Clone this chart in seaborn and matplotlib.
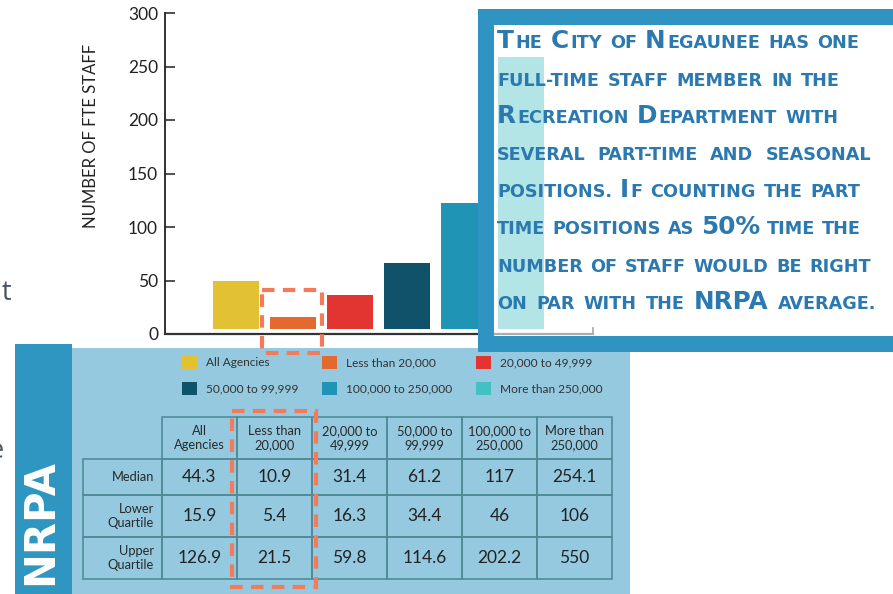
import re
import numpy as np
import pandas as pd
import matplotlib
matplotlib.use("Agg")
import matplotlib.pyplot as plt
import seaborn as sns
from matplotlib.patches import Rectangle
from matplotlib.table import Table

# ---------------- data ----------------
categories = ["All Agencies", "Less than 20,000", "20,000 to 49,999",
              "50,000 to 99,999", "100,000 to 250,000", "More than 250,000"]
median_fte = [44.3, 10.9, 31.4, 61.2, 117, 254.1]
lower_quartile = [15.9, 5.4, 16.3, 34.4, 46, 106]
upper_quartile = [126.9, 21.5, 59.8, 114.6, 202.2, 550]
col_headers = ["All\nAgencies", "Less than\n20,000", "20,000 to\n49,999",
               "50,000 to\n99,999", "100,000 to\n250,000", "More than\n250,000"]
row_labels = ["Median", "Lower\nQuartile", "Upper\nQuartile"]
y_ticks = [0, 50, 100, 150, 200, 250, 300]
y_label = "NUMBER OF FTE STAFF"
box_lines = [
    "{T}HE {C}ITY OF {N}EGAUNEE HAS ONE",
    "FULL-TIME STAFF MEMBER IN THE",
    "{R}ECREATION {D}EPARTMENT WITH",
    "SEVERAL PART-TIME AND SEASONAL",
    "POSITIONS. {I}F COUNTING THE PART",
    "TIME POSITIONS AS {50%} TIME THE",
    "NUMBER OF STAFF WOULD BE RIGHT",
    "ON PAR WITH THE {NRPA} AVERAGE.",
]

# ---------------- styles ----------------
bar_colors = ["#e2c232", "#e4692f", "#e23532", "#11526b", "#2094b4", "#42c0c4"]
band_c = "#2f95c1"
panel_c = "#95c9df"
box_border_c = "#2f94c2"
box_text_c = "#2b79ae"
grid_c = "#4f8c97"
dash_c = "#f47a5a"
ink = "#222222"

plt.rcParams["font.family"] = ["Lato", "DejaVu Sans"]

W, H = 893, 594
fig = plt.figure(figsize=(W / 100, H / 100), dpi=100)


def fx(px):
    return px / W


def fy(py):
    return 1 - py / H


# ---------------- background layer ----------------
bg = fig.add_axes([0, 0, 1, 1])
bg.set_xlim(0, W)
bg.set_ylim(H, 0)
bg.axis("off")
bg.set_zorder(0)
bg.add_patch(Rectangle((15, 344), 57, 260, color=band_c, lw=0))
bg.add_patch(Rectangle((72, 348), 558, 256, color=panel_c, lw=0))
bg.text(40, 522, "NRPA", rotation=90, ha="center", va="center", color="white",
        fontsize=30, fontweight="bold", family="DejaVu Sans")
bg.text(2, 300, "t", ha="left", va="baseline", fontsize=19.5, color="#4a5561",
        family="Open Sans")
bg.text(4, 458, "e", ha="right", va="baseline", fontsize=19.5, color="#4a5561",
        family="Open Sans")

# ---------------- bar chart ----------------
ax = fig.add_axes([fx(165), fy(334), fx(593) - fx(165), fy(13) - fy(334)])
ax.set_zorder(1)
ax.patch.set_alpha(0)
df = pd.DataFrame({"category": categories, "median": median_fte})
sns.barplot(data=df, x="category", y="median", hue="category",
            palette=bar_colors, saturation=1, width=0.807, bottom=5,
            legend=False, ax=ax)
ax.set_xlim(-1.25, 6.26)
ax.set_ylim(0, 300)
ax.set_yticks(y_ticks)
ax.set_xticks([])
ax.set_xlabel("")
ax.set_ylabel(y_label, fontsize=12, color=ink)
ax.yaxis.set_label_coords(-0.173, 0.617)
ax.yaxis.label.set_verticalalignment("center")
ax.tick_params(axis="y", direction="in", length=7.2, width=1.1, colors=ink,
               labelsize=12.5, pad=5)
ax.spines["top"].set_visible(False)
ax.spines["left"].set_linewidth(1.3)
ax.spines["left"].set_color(ink)
ax.spines["bottom"].set_linewidth(1.6)
ax.spines["bottom"].set_color("#333333")
ax.spines["right"].set_bounds(0, 6)
ax.spines["right"].set_color("#333333")
ax.spines["right"].set_linewidth(1.3)

# ---------------- top layer ----------------
top = fig.add_axes([0, 0, 1, 1])
top.set_xlim(0, W)
top.set_ylim(H, 0)
top.axis("off")
top.set_zorder(2)

# text box (semi-transparent white inside an opaque blue frame)
top.add_patch(Rectangle((486, 17), W + 30 - 486, 344 - 17,
                        facecolor=(1, 1, 1, 0.6), edgecolor=box_border_c,
                        lw=16 * 0.72, joinstyle="miter", clip_on=False, zorder=2))

# dashed highlight boxes
for (x0, y0, w0, h0) in [(262, 290, 60, 63), (232, 411, 84, 176)]:
    top.add_patch(Rectangle((x0, y0), w0, h0, fill=False, edgecolor=dash_c,
                            lw=3.0, linestyle=(0, (3.0, 2.0)), zorder=6,
                            clip_on=False))

# table
tbl = Table(top, bbox=[fx(83), fy(579), fx(612) - fx(83), fy(417) - fy(579)])
tbl.auto_set_font_size(False)
row_h = [36, 42, 42]
for j, hdr in enumerate(col_headers):
    c = tbl.add_cell(0, j + 1, width=75, height=42, text=hdr, loc="center",
                     facecolor="none", edgecolor=grid_c)
    c.get_text().set(fontsize=9.3, color="#2a2a2a", linespacing=1.25)
    c.set_linewidth(1.2)
table_rows = [median_fte, lower_quartile, upper_quartile]
for i, (lab, vals) in enumerate(zip(row_labels, table_rows)):
    c = tbl.add_cell(i + 1, 0, width=79, height=row_h[i], text=lab, loc="right",
                     facecolor="none", edgecolor=grid_c)
    c.get_text().set(fontsize=9.3, color="#2a2a2a", linespacing=1.25)
    c.set_linewidth(1.2)
    for j, v in enumerate(vals):
        c = tbl.add_cell(i + 1, j + 1, width=75, height=row_h[i], text=f"{v:g}",
                         loc="center", facecolor="none", edgecolor=grid_c)
        c.get_text().set(fontsize=12.5, color="#222222")
        c.set_linewidth(1.2)
tbl.set_zorder(3)
top.add_table(tbl)

# legend (row-wise order in a 3-column layout)
handles = list(ax.patches)[:len(categories)]
order = [0, 3, 1, 4, 2, 5]
leg = fig.legend([handles[k] for k in order], [categories[k] for k in order],
                 ncol=3, loc="upper left", bbox_to_anchor=(fx(182), fy(356)),
                 frameon=False, fontsize=8.6, handlelength=1.27, handleheight=1.27,
                 handletextpad=0.76, columnspacing=1.95, labelspacing=1.1,
                 borderpad=0, borderaxespad=0)
for t in leg.get_texts():
    t.set_color("#333333")

# box text with small caps, justified per line
SMALL, BIG = 12.7, 17.8
MIN_GAP = 7
box_left = 497
box_baselines = [48, 86, 123, 160, 197, 234, 272, 309]
box_rights = [859, 840, 838, 871, 860, 861, 871, 876]
seg_re = re.compile(r"\{([^}]*)\}|([^{}]+)")
renderer = fig.canvas.get_renderer()
PAD = 1.5
for line, yb, xr in zip(box_lines, box_baselines, box_rights):
    words = line.split(" ")
    items = []
    for w in words:
        segs = []
        for m in seg_re.finditer(w):
            big = m.group(1) is not None
            txt = m.group(1) if big else m.group(2)
            t = top.text(0, yb, txt, fontsize=BIG if big else SMALL,
                         fontweight="bold", family="DejaVu Sans", color=box_text_c,
                         ha="left", va="baseline", zorder=8)
            segs.append(t)
        items.append(segs)
    widths = [[t.get_window_extent(renderer).width for t in segs] for segs in items]
    totals = [sum(ws) + PAD * (len(ws) - 1) for ws in widths]
    gap = (xr - box_left - sum(totals)) / max(len(words) - 1, 1)
    gap = max(gap, MIN_GAP)
    x = box_left
    for segs, ws, tot in zip(items, widths, totals):
        xx = x
        for t, wd in zip(segs, ws):
            t.set_x(xx)
            xx += wd + PAD
        x += tot + gap

fig.savefig("out.png", dpi=100)
